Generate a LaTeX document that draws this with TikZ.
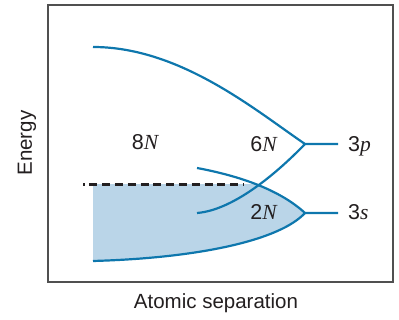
\documentclass[tikz,border=0pt]{standalone}
\usepackage{fontspec}
\setmainfont{Liberation Sans}
\newfontfamily\lblserif{Liberation Serif}
\usetikzlibrary{positioning}
\definecolor{band}{HTML}{0E77AD}
\definecolor{bandfill}{HTML}{BAD5E8}
\definecolor{frame}{HTML}{505050}
\definecolor{ink}{HTML}{231F20}
\tikzset{
  bandline/.style={draw=band,line width=2.2pt},
  fermi/.style={draw=ink,line width=2.6pt,dash pattern=on 8pt off 4.8pt,dash phase=6.5pt},
  axlabel/.style={font=\fontsize{20.5}{22}\selectfont,text=ink,inner sep=0pt},
  lbl/.style={font=\fontsize{21.5}{23}\selectfont,text=ink,inner sep=0pt,anchor=base},
}
\newcommand{\nv}[1]{{\lblserif\itshape #1}}

\begin{document}
\begin{tikzpicture}[x=1pt,y=1pt]
  \useasboundingbox (0,0) rectangle (399,320);
  \coordinate (p0) at (93,273);
  \coordinate (papex) at (305,176);
  \coordinate (p1) at (197,107);
  \coordinate (s0) at (197,152);
  \coordinate (sapex) at (305,107);
  \coordinate (s1) at (93,59);
  \coordinate (pend) at (338,176);
  \coordinate (send) at (338,107);
  \coordinate (fl) at (83,135.5);
  \coordinate (fr) at (244,135.5);

  \begin{scope}
    \clip (80,0) rectangle (399,135.5);
    \fill[bandfill] (s1) -- (93,168) -- (s0)
      .. controls (240,144) and (280,130) .. (sapex)
      .. controls (280,80) and (200,62) .. (s1) -- cycle;
  \end{scope}

  \draw[frame,line width=2pt] (47.5,315) rectangle (393,38);

  \draw[bandline] (p0) .. controls (180,273) and (255,210) .. (papex) -- (pend);
  \draw[bandline] (p1) .. controls (235,110) and (280,150) .. (papex);
  \draw[bandline] (s0) .. controls (240,144) and (280,130) .. (sapex) -- (send);
  \draw[bandline] (sapex) .. controls (280,80) and (200,62) .. (s1);
  \draw[fermi] (fl) -- (fr);

  \node[lbl] (n8) at (145,170) {8\nv{N}};
  \node[lbl] (n6) at (263.5,168) {6\nv{N}};
  \node[lbl] (n2) at (263.5,100) {2\nv{N}};
  \node[lbl,anchor=base west] (l3p) at (348,168) {3\nv{p}};
  \node[lbl,anchor=base west] (l3s) at (348,100) {3\nv{s}};

  \node[axlabel,rotate=90] (ey) at (27,177) {Energy};
  \node[axlabel,anchor=base] (ex) at (216,11) {Atomic separation};
\end{tikzpicture}
\end{document}
